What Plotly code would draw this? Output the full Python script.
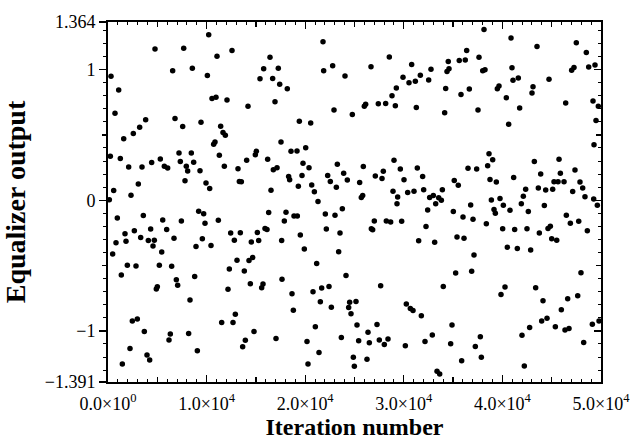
import plotly.graph_objects as go

iteration = [
    304, 1085, 4767, 710, 2566, 3211, 3819, 1592, 237, 1250, 2096, 3448, 4428, 5307, 575, 3076, 2333,
    10213, 7677, 12576, 11055, 16430, 6558, 8553, 10077, 15788, 17272, 15416, 16700, 17414,
    10547, 10953, 12069, 14199, 16937, 6795, 7575, 9432, 11427, 11663, 11900, 10716, 10852, 17546,
    5714, 6052, 7201, 8451, 7336, 8688, 7941, 8079, 9331, 11291, 11798, 13185, 14064, 14942, 15043,
    16194, 16768, 17143, 7809, 9939, 10314, 13320, 13523, 16531,
    21805, 21873, 22786, 24036, 26673, 28532, 18185, 22921, 24780, 25996, 26131, 27415, 28160, 28803,
    29243, 29142, 19405, 20558, 18560, 19169, 20051, 19777, 20386, 23259, 23901, 25895, 29006, 18321,
    18422, 19675, 19304, 20660, 20930, 21298, 22279, 22549, 23158, 24273, 25523, 25690, 25830, 27112,
    27790, 27922, 28905, 29377, 29310,
    38134, 40872, 36376, 30797, 34510, 35625, 36234, 37627, 32758, 34382, 34585, 38004, 38235, 40973,
    29919, 30527, 31169, 31676, 32522, 41074, 34247, 35800, 36646, 39487, 39656, 40398, 31270, 34145,
    37525, 40635, 29648, 31371, 30020, 31912, 35119, 35524, 36512, 37390, 38641, 39015, 38506, 38743,
    39385, 41142, 30392, 31034, 32015, 32623, 32995, 33538, 33808, 33234, 33910, 36782, 38879, 39757,
    40095,
    43510, 47496, 48511, 49393, 48751, 47023, 47260, 44727, 41615, 43104, 43002, 46418, 49190, 49727,
    49494, 41750, 49291, 43239, 45742, 43882, 47361, 45878, 45235, 45641, 46249, 47868, 42359, 42122,
    41919, 43645, 44389, 45099, 47128, 48142, 48375, 49258, 49629, 44254,
    135, 946, 3583, 5550, 1724, 2671, 4327, 811, 1826, 3313, 4090, 4698, 4564, 5448, 473, 1961, 2840,
    5206, 1352, 5003, 4901, 2468, 2975, 3685, 2231, 3955, 4226, 1454,
    5950, 6694, 7440, 9196, 9703, 9838, 11190, 9568, 8925, 10446, 12441, 13421, 12813, 14537, 15146,
    15281, 15923, 16126, 16295, 17613, 6457, 6930, 7066, 8790, 8317, 13083, 12306, 13826, 14300, 14672,
    12170, 14436, 15585, 15720, 17647, 12914, 11528, 12678, 14807, 6322, 6187, 8180, 13928, 13658,
    17039, 9061,
    18053, 17884, 18864, 19203, 22043, 23022, 23766, 22144, 23529, 19506, 19912, 23394, 27010, 26841,
    26706, 28228, 28667, 21163, 24138, 18661, 18797, 20792, 21670, 22414, 21535, 22651, 24509, 25152,
    24408, 24645, 27652, 25253, 27281, 26369, 25422, 26503, 27517, 28024, 28398, 21028, 23665, 20183,
    21400, 20284, 24881, 24983, 26267,
    29783, 32421, 32252, 31507, 33131, 35023, 36005, 37019, 38370, 39149, 39284, 40770, 35396, 36106,
    40027, 40500, 41243, 37120, 35260, 36883, 34004, 40264, 39858, 30256, 30662, 30934, 31778, 34888,
    32893, 37762, 32150, 34754, 37255, 30155, 37863, 35867, 33369, 33640,
    42629, 42494, 43746, 44625, 44862, 45000, 45508, 46485, 46891, 47739, 48613, 41513, 42866, 47969,
    43374, 44118, 46621, 47638, 45977, 43983, 44524, 45370, 46350, 46756, 42764, 41987, 49122, 49799,
    48243, 42224,
]

output = [
    0.949, 0.844, 1.157, 0.666, 0.511, 0.559, 0.616, 0.471, 0.336, 0.319, 0.254, 0.254, 0.289, 0.316, 0.074, 0.124, 0.039,
    1.266, 1.164, 1.146, 1.101, 1.094, 0.991, 1.011, 0.954, 1.006, 1.011, 0.929, 0.931, 0.887,
    0.779, 0.789, 0.767, 0.719, 0.754, 0.626, 0.564, 0.596, 0.566, 0.519, 0.497, 0.429, 0.446, 0.446,
    0.261, 0.246, 0.361, 0.361, 0.296, 0.291, 0.261, 0.224, 0.226, 0.344, 0.261, 0.241, 0.306, 0.349, 0.374,
    0.314, 0.234, 0.249, 0.149, 0.131, 0.089, 0.143, 0.141, 0.077,
    1.212, 0.991, 1.029, 0.951, 1.021, 1.096, 0.854, 0.691, 0.656, 0.719, 0.734, 0.739, 0.741, 0.799,
    0.859, 0.724, 0.604, 0.591, 0.374, 0.376, 0.401, 0.284, 0.249, 0.276, 0.206, 0.259, 0.306, 0.181,
    0.156, 0.189, 0.107, 0.116, 0.064, -0.009, 0.189, 0.144, 0.099, 0.154, 0.136, 0.021, 0.036, 0.186,
    0.167, 0.221, 0.069, 0.024, -0.026,
    1.307, 1.242, 1.146, 1.039, 1.061, 1.069, 1.074, 1.094, 1.002, 0.986, 1.006, 0.991, 0.999, 1.014,
    0.941, 0.899, 0.911, 0.956, 0.921, 0.919, 0.856, 0.809, 0.851, 0.854, 0.874, 0.784, 0.709, 0.669,
    0.691, 0.581, 0.239, 0.246, 0.156, 0.181, 0.151, 0.114, 0.244, 0.239, 0.356, 0.309, 0.264, 0.158,
    0.139, 0.174, 0.059, 0.069, 0.081, 0.021, 0.036, 0.019, -0.001, -0.026, 0.081, -0.036, 0.001, 0.014,
    -0.039,
    1.176, 1.206, 1.131, 1.034, 1.019, 0.994, 1.016, 0.926, 0.936, 0.869, 0.821, 0.744, 0.759, 0.719,
    0.611, 0.706, 0.424, 0.296, 0.314, 0.201, 0.231, 0.206, 0.141, 0.141, 0.141, 0.139, 0.084, 0.031,
    -0.026, 0.094, 0.079, 0.084, 0.066, 0.094, 0.026, 0.009, -0.039, -0.041,
    0.004, -0.136, -0.116, -0.151, -0.256, -0.234, -0.221, -0.326, -0.314, -0.286, -0.309, -0.306, -0.351, -0.396, -0.411, -0.497, -0.504,
    -0.497, -0.572, -0.662, -0.679, -0.924, -0.909, -1.004, -1.134, -1.184, -1.222, -1.254,
    -0.224, -0.291, -0.159, -0.084, -0.104, -0.176, -0.154, -0.294, -0.354, -0.346, -0.251, -0.249, -0.306, -0.319, -0.246,
    -0.309, -0.216, -0.224, -0.094, -0.309, -0.506, -0.609, -0.651, -0.584, -0.764, -0.459, -0.526, -0.541, -0.461, -0.439,
    -0.681, -0.639, -0.669, -0.641, -0.604, -0.872, -0.936, -0.936, -1.004, -1.024, -1.069, -1.019, -1.072, -1.122,
    -1.059, -1.152,
    -0.091, -0.159, -0.121, -0.121, -0.106, -0.114, -0.066, -0.221, -0.251, -0.266, -0.374, -0.394, -0.159, -0.226,
    -0.219, -0.159, -0.166, -0.484, -0.576, -0.716, -0.841, -0.701, -0.671, -0.661, -0.776, -0.819, -0.781, -0.774,
    -0.821, -0.869, -0.654, -0.954, -0.951, -1.011, -1.076, -1.091, -1.069, -1.104, -1.061, -0.969, -1.051, -1.081,
    -1.166, -1.254, -1.201, -1.271, -1.216,
    -0.161, -0.074, -0.201, -0.311, -0.321, -0.086, -0.129, -0.146, -0.179, -0.071, -0.099, -0.076, -0.281, -0.291,
    -0.219, -0.359, -0.224, -0.419, -0.556, -0.544, -0.661, -0.664, -0.721, -0.794, -0.829, -0.844, -0.884, -0.954,
    -1.031, -1.044, -1.081, -1.099, -1.119, -1.114, -1.201, -1.229, -1.309, -1.329,
    -0.086, -0.219, -0.251, -0.216, -0.199, -0.294, -0.306, -0.114, -0.176, -0.161, -0.234, -0.369, -0.381, -0.554,
    -0.669, -0.769, -0.754, -0.731, -0.839, -0.924, -0.904, -0.969, -0.994, -0.981, -0.974, -1.034, -0.949, -0.924,
    -1.089, -1.269,
]

x_range = [0, 50000]
x_major = [0, 10000, 20000, 30000, 40000, 50000]
x_labels = ["0.0×10<sup>0</sup>", "1.0×10<sup>4</sup>", "2.0×10<sup>4</sup>",
            "3.0×10<sup>4</sup>", "4.0×10<sup>4</sup>", "5.0×10<sup>4</sup>"]
x_mid = [5000, 15000, 25000, 35000, 45000]
x_minor_step = 1000

y_range = [-1.391, 1.364]
y_major = [-1.391, -1, 0, 1, 1.364]
y_labels = ["\u22121.391", "\u22121", "0", "1", "1.364"]
y_right_major = [-1, 0, 1]
y_mid = [-0.5, 0.5]
y_minor_step = 0.1

FONT = "Liberation Serif"

fig = go.Figure()
fig.add_trace(go.Scatter(x=iteration, y=output, mode="markers",
                         marker=dict(size=5.5, color="black", line=dict(width=0)),
                         showlegend=False, hoverinfo="skip"))
# empty traces to instantiate the overlay axes
fig.add_trace(go.Scatter(x=[], y=[], xaxis="x2", yaxis="y2", showlegend=False))
fig.add_trace(go.Scatter(x=[], y=[], xaxis="x2", yaxis="y3", showlegend=False))
fig.add_trace(go.Scatter(x=[], y=[], xaxis="x2", yaxis="y4", showlegend=False))

common = dict(showgrid=False, zeroline=False, tickcolor="black")

fig.update_layout(
    width=642, height=447,
    margin=dict(l=108, r=41, t=15, b=65),
    paper_bgcolor="white", plot_bgcolor="white",
    font=dict(family=FONT, color="black", size=18),
    xaxis=dict(range=x_range, tickmode="array", tickvals=x_major, ticktext=x_labels,
               ticks="inside", ticklen=7, tickwidth=1.3, showline=True, linewidth=2,
               linecolor="black", mirror="ticks",
               minor=dict(tickmode="linear", tick0=0, dtick=x_minor_step, ticks="inside",
                          ticklen=3, tickwidth=1, tickcolor="black", showgrid=False),
               tickfont=dict(family=FONT, size=18),
               ticklabelstandoff=4,
               title=dict(text="<b>Iteration number</b>", font=dict(family=FONT, size=24), standoff=2),
               **common),
    xaxis2=dict(range=x_range, matches="x", overlaying="x", side="bottom", anchor="y",
                tickmode="array", tickvals=x_mid, ticks="inside", ticklen=5, tickwidth=1.3,
                showticklabels=False, showline=False, mirror="ticks", **common),
    yaxis=dict(range=y_range, tickmode="array", tickvals=y_major, ticktext=y_labels,
               ticks="outside", ticklen=7, tickwidth=1.3, showline=True, linewidth=2,
               linecolor="black", mirror=True,
               minor=dict(tickmode="linear", tick0=0, dtick=y_minor_step, ticks="outside",
                          ticklen=3, tickwidth=1, tickcolor="black", showgrid=False),
               tickfont=dict(family=FONT, size=18),
               title=dict(text="<b>Equalizer output</b>", font=dict(family=FONT, size=28), standoff=12),
               **common),
    yaxis2=dict(range=y_range, matches="y", overlaying="y", side="right", anchor="x",
                tickmode="array", tickvals=y_right_major, ticks="inside", ticklen=7, tickwidth=1.3,
                showticklabels=False, showline=False,
                minor=dict(tickmode="linear", tick0=0, dtick=y_minor_step, ticks="inside",
                           ticklen=3, tickwidth=1, tickcolor="black", showgrid=False),
                **common),
    yaxis3=dict(range=y_range, matches="y", overlaying="y", side="left", anchor="x",
                tickmode="array", tickvals=y_mid, ticks="outside", ticklen=5, tickwidth=1.3,
                showticklabels=False, showline=False, **common),
    yaxis4=dict(range=y_range, matches="y", overlaying="y", side="right", anchor="x",
                tickmode="array", tickvals=y_mid, ticks="inside", ticklen=5, tickwidth=1.3,
                showticklabels=False, showline=False, **common),
)

fig.write_html("out.html",
               config={"displayModeBar": False, "staticPlot": True},
               post_script="document.body.style.margin='0';document.body.style.padding='0';")
